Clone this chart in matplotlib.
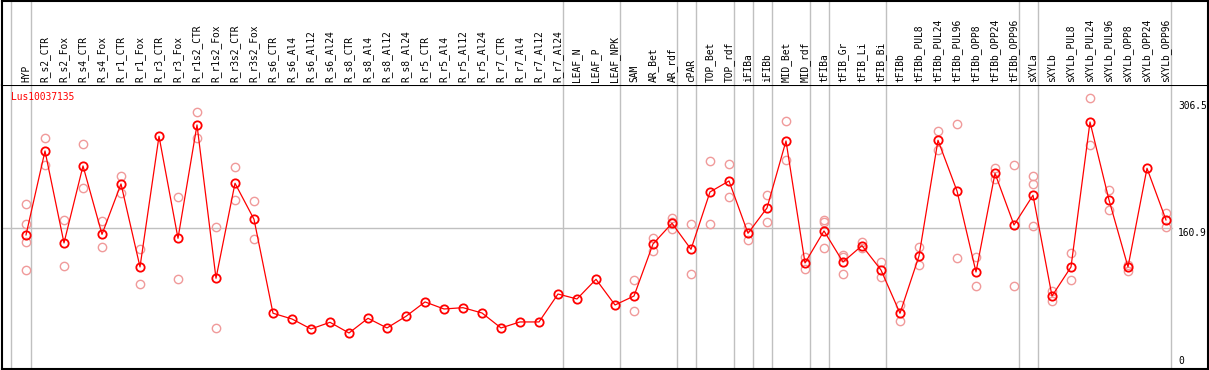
import matplotlib
matplotlib.use("Agg")
import matplotlib.pyplot as plt

# sample names, one per column
samples = [
    "HYP", "R_s2_CTR", "R_s2_Fox", "R_s4_CTR", "R_s4_Fox", "R_r1_CTR", "R_r1_Fox",
    "R_r3_CTR", "R_r3_Fox", "R_r1s2_CTR", "R_r1s2_Fox", "R_r3s2_CTR", "R_r3s2_Fox",
    "R_s6_CTR", "R_s6_Al4", "R_s6_Al12", "R_s6_Al24", "R_s8_CTR", "R_s8_Al4",
    "R_s8_Al12", "R_s8_Al24", "R_r5_CTR", "R_r5_Al4", "R_r5_Al12", "R_r5_Al24",
    "R_r7_CTR", "R_r7_Al4", "R_r7_Al12", "R_r7_Al24", "LEAF_N", "LEAF_P", "LEAF_NPK",
    "SAM", "AR_Bet", "AR_rdf", "cPAR", "TOP_Bet", "TOP_rdf", "iFIBa", "iFIBb",
    "MID_Bet", "MID_rdf", "tFIBa", "tFIB_Gr", "tFIB_Li", "tFIB_Bi", "tFIBb",
    "tFIBb_PUL8", "tFIBb_PUL24", "tFIBb_PUL96", "tFIBb_OPP8", "tFIBb_OPP24",
    "tFIBb_OPP96", "sXYLa", "sXYLb", "sXYLb_PUL8", "sXYLb_PUL24", "sXYLb_PUL96",
    "sXYLb_OPP8", "sXYLb_OPP24", "sXYLb_OPP96",
]

# mean expression per sample
means = [
    152.9, 249.4, 143.7, 232.2, 153.6, 211.5, 116.1, 266.3, 149.0, 279.3, 103.1,
    212.3, 170.9, 62.9, 56.3, 44.8, 52.5, 40.2, 57.1, 46.0, 59.4, 75.9, 67.8, 69.3,
    63.2, 46.0, 52.9, 52.9, 85.0, 79.3, 101.9, 72.4, 82.7, 142.5, 166.3, 136.4,
    202.3, 214.9, 154.8, 183.9, 260.9, 120.7, 157.5, 121.8, 140.6, 112.6, 62.9,
    128.7, 261.7, 203.4, 110.3, 223.7, 164.3, 198.5, 82.7, 116.1, 282.7, 193.1,
    116.1, 229.5, 170.1,
]

# individual replicates (empty where none are visible)
replicates = [
    [188.1, 165.1, 144.4, 112.3], [264.0, 232.9], [170.1, 117.2], [257.4, 206.5],
    [168.9, 139.1], [220.7, 201.5], [136.8, 96.5], [], [196.5, 101.9],
    [293.8, 264.0], [161.7, 46.0], [230.7, 192.7], [191.6, 148.6],
    [], [], [], [], [], [], [], [], [], [], [], [], [], [], [], [], [], [], [],
    [100.8, 65.5], [149.4, 134.1], [172.8, 168.0, 159.8], [165.1, 108.0],
    [237.9, 165.1], [234.1, 196.5], [162.4, 147.5], [198.5, 167.4],
    [283.5, 238.7], [127.9, 113.4], [170.1, 167.3, 137.9], [129.9, 127.0, 108.0],
    [145.2, 137.9], [121.5, 105.0], [72.4, 54.0], [139.1, 118.0], [272.4, 250.2],
    [280.1, 126.4], [127.2, 94.2], [230.2, 217.2], [233.3, 94.2],
    [220.7, 211.1, 163.2], [88.5, 76.6], [132.2, 100.8], [310.3, 256.3],
    [204.6, 181.6], [118.0, 111.8], [], [177.8, 162.0],
]

# group separators sit just after these samples
group_ends = ["HYP", "R_r7_Al24", "LEAF_NPK", "AR_rdf", "cPAR", "TOP_rdf", "iFIBa",
              "iFIBb", "MID_rdf", "tFIBa", "tFIB_Bi", "tFIBb_OPP96", "sXYLa",
              "sXYLb_OPP96"]

gene = "Lus10037135"
ref_ticks = [0, 160.9, 306.5]

W, H = 1209, 370
RED = "#ff0000"
PINK = "#f09a9a"
GRID = "#c0c0c0"
FONT = "DejaVu Sans Mono"
FS = 6.9

fig = plt.figure(figsize=(W / 100, H / 100), dpi=100)

def px_axes(x0, y0, x1, y1):
    return fig.add_axes([x0 / W, 1 - y1 / H, (x1 - x0) / W, (y1 - y0) / H])

# column i sits at 26 + 19*i pixels
xl = ((1.5 - 26) / 19, (1207.5 - 26) / 19)
ax = px_axes(1.5, 85, 1207.5, 368.5)
hx = px_axes(1.5, 0.5, 1207.5, 85)

ax.set_xlim(*xl)
ax.set_ylim(-0.6, 325.2)
hx.set_xlim(*xl)
hx.set_ylim(0, 1)

for a in (ax, hx):
    a.set_xticks([])
    a.set_yticks([])
    for s in a.spines.values():
        s.set_color("black")
        s.set_linewidth(1.5)
hx.spines["bottom"].set_visible(False)

xs = list(range(len(samples)))
seps = [-0.8] + [samples.index(n) + 0.25 for n in group_ends]
for s in seps:
    ax.axvline(s, color=GRID, lw=1, zorder=1)
    hx.axvline(s, color=GRID, lw=1, zorder=1)

# reference line at the middle tick, stopping before the label strip
x_end = (1172 - 26) / 19
ax.plot([xl[0], x_end], [ref_ticks[1], ref_ticks[1]], color=GRID, lw=1, zorder=1)

for i, reps in enumerate(replicates):
    if reps:
        ax.plot([i] * len(reps), reps, linestyle="none", marker="o", ms=6,
                mfc="none", mec=PINK, mew=1.0, zorder=2)

ax.plot(xs, means, color=RED, lw=0.9, marker="o", ms=6, mfc="none",
        mec=RED, mew=1.3, zorder=3)

for i, name in enumerate(samples):
    hx.text(i, 0.03, name, rotation=90, rotation_mode="anchor", ha="left",
            va="center", fontsize=FS, family=FONT, color="black")

ax.text(10 / 1206, 1 - 7 / 283.5, gene, transform=ax.transAxes, ha="left",
        va="top", fontsize=FS, family=FONT, color=RED)

tx = (1178 - 26) / 19
ax.text(tx, ref_ticks[2], "306.5", ha="left", va="top", fontsize=FS, family=FONT)
ax.text(tx, ref_ticks[1], "160.9", ha="left", va="top", fontsize=FS, family=FONT)
ax.text(tx, ref_ticks[0] + 2, "0", ha="left", va="bottom", fontsize=FS, family=FONT)

fig.savefig("out.png", dpi=100)
